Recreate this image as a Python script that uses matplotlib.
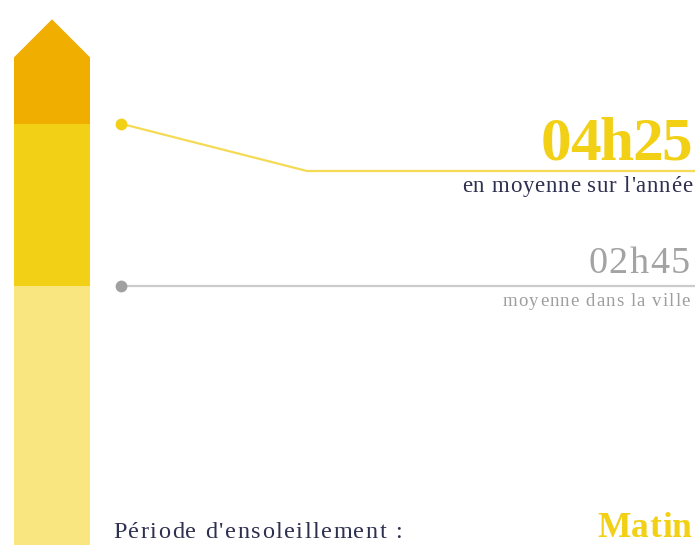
import numpy as np
import matplotlib
matplotlib.use("Agg")
import matplotlib.pyplot as plt
from matplotlib.font_manager import FontProperties, findfont, get_font

# data: daily sunshine duration (hours)
year_avg = 4 + 25 / 60      # 04h25, en moyenne sur l'année
city_avg = 2 + 45 / 60      # 02h45, moyenne dans la ville
bar_max = 5.1               # top of the gauge bar
labels_value = ["04h25", "02h45"]
labels_sub = ["en moyenne sur l'année", "moyenne dans la ville"]
period_label = "Période d'ensoleillement :"
period_value = "Matin"

W, H, DPI = 695, 545, 100
YELLOW = "#F2D016"
ORANGE = "#F0AE00"
LIGHT = "#F9E680"
NAVY = "#2E3050"
GREY = "#A3A3A3"

fig = plt.figure(figsize=(W / DPI, H / DPI), dpi=DPI)
fig.patch.set_facecolor("white")

# value axes (y in hours)
ax = fig.add_axes([0, 0, 1, 1])
ax.set_xlim(0, W)
ax.set_ylim(0.08, 5.69)
ax.axis("off")

# pixel axes for layout of the texts
axp = fig.add_axes([0, 0, 1, 1])
axp.set_xlim(0, W)
axp.set_ylim(H, 0)
axp.axis("off")
axp.patch.set_alpha(0)


def to_px(v):
    return H - ax.transData.transform((0, v))[1]


# gauge bar
bx, bw = 14, 76
ax.bar(bx, city_avg, width=bw, bottom=0, color=LIGHT, align="edge", lw=0)
ax.bar(bx, year_avg - city_avg, width=bw, bottom=city_avg, color=YELLOW,
       align="edge", lw=0)
ax.bar(bx, bar_max - year_avg, width=bw, bottom=year_avg, color=ORANGE,
       align="edge", lw=0)
head = 38 / (H / (5.69 - 0.08))
ax.fill([bx, bx + bw / 2, bx + bw], [bar_max, bar_max + head, bar_max],
        color=ORANGE, lw=0)

# connector lines
y_year = to_px(year_avg)
axp.plot([121, 307, W], [y_year, 171, 171], color="#F4DA55", lw=1.6,
         solid_capstyle="butt", zorder=2)
axp.plot([121], [y_year], "o", color=YELLOW, ms=8.5, mec="none", zorder=3)
ax.plot([121, W], [city_avg, city_avg], color="#CBCBCB", lw=1.6, zorder=2)
ax.plot([121], [city_avg], "o", color="#A0A0A0", ms=8.5, mec="none", zorder=3)


def spaced(x0, x1, y, s, size, color, weight="normal"):
    """Draw s on baseline y, letter-spaced to fill x0..x1 (pixels)."""
    fp = FontProperties(family="Liberation Serif", size=size, weight=weight)
    font = get_font(findfont(fp))
    font.set_size(size, DPI)
    adv = [font.load_char(ord(c)).linearHoriAdvance / 65536 for c in s]
    gap = (x1 - x0 - sum(adv)) / max(len(s) - 1, 1)
    x = x0
    for c, a in zip(s, adv):
        axp.text(x, y, c, fontproperties=fp, color=color, ha="left",
                 va="baseline")
        x += a + gap


spaced(541, 692, 160, labels_value[0], 44, YELLOW, "bold")
spaced(462, 692, 192, labels_sub[0], 16.5, NAVY)
spaced(588, 690, 273, labels_value[1], 27.5, GREY)
spaced(503, 690, 306, labels_sub[1], 13.5, "#9E9E9E")
spaced(113, 402, 538, period_label, 17.5, NAVY)
spaced(597, 692, 537, period_value, 25.5, YELLOW, "bold")

fig.savefig("out.png", dpi=DPI, facecolor="white")
